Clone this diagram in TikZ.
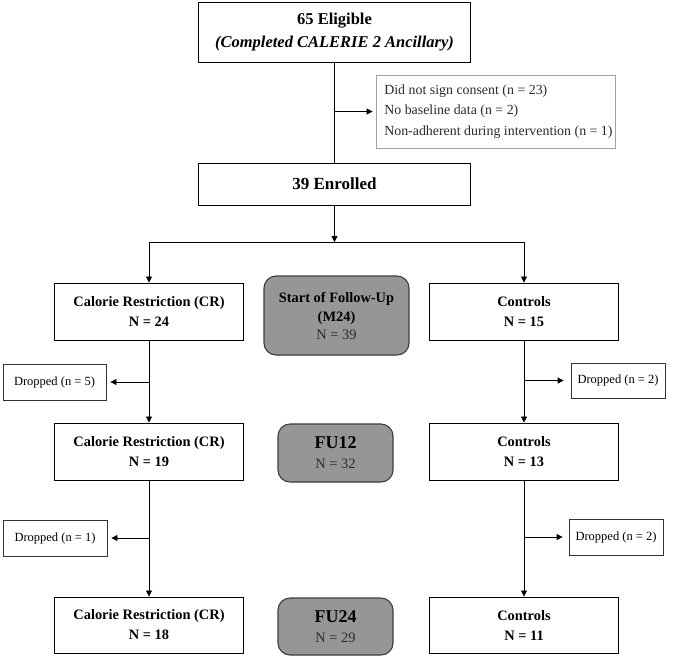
\documentclass[tikz,border=0pt]{standalone}
\usepackage{fontspec}
\setmainfont{Liberation Serif}
\usetikzlibrary{arrows.meta}
\definecolor{gfill}{HTML}{969696}
\definecolor{gline}{HTML}{3C3C3C}
\definecolor{exline}{HTML}{A0A0A0}
\definecolor{gtext}{HTML}{2A2A2A}
\begin{document}
\begin{tikzpicture}[x=1pt,y=-1pt,
  box/.style={draw=black, line width=0.9pt, fill=white, align=center, inner sep=0pt,
    minimum width=189pt, minimum height=57pt, font=\bfseries\fontsize{14.4}{20}\selectfont},
  gbox/.style={draw=gline, line width=1.1pt, fill=gfill, align=center, inner sep=0pt,
    rounded corners=12pt, font=\fontsize{14.4}{20}\selectfont},
  dropbox/.style={draw=black!80, line width=0.8pt, fill=white, inner sep=0pt,
    minimum width=103pt, minimum height=36pt, font=\fontsize{12.5}{15}\selectfont},
  arr/.style={-{Triangle[length=6pt,width=6pt]}, line width=0.8pt},
  ln/.style={line width=0.8pt}]
\useasboundingbox (0,0) rectangle (677,657);

% top
\node[box, minimum width=272pt, minimum height=60pt, font=\bfseries\fontsize{16.5}{23}\selectfont]
  (top) at (334.5,32) {65 Eligible\\\textit{(Completed CALERIE 2 Ancillary)}};
\node[draw=exline, line width=0.8pt, fill=white, inner sep=0pt,
  minimum width=239pt, minimum height=73pt] (excl) at (495.5,111.5) {};
\node[anchor=west, align=left, inner sep=0pt, text=gtext, font=\fontsize{13.9}{20.5}\selectfont]
  (excltxt) at ([xshift=8.5pt]excl.west)
  {Did not sign consent (n = 23)\\No baseline data (n = 2)\\Non-adherent during intervention (n = 1)};
\node[box, minimum width=272pt, minimum height=42pt, font=\bfseries\fontsize{17}{20}\selectfont]
  (enr) at (334.5,184) {39 Enrolled};

% row 1
\node[box] (cr1) at (149,311.5) {Calorie Restriction (CR)\\N = 24};
\node[box] (ct1) at (524,311.5) {Controls\\N = 15};
\node[gbox, minimum width=145pt, minimum height=79pt] (s1) at (336.5,315.5)
  {\textbf{Start of Follow-Up}\\[-1pt]\textbf{(M24)}\\[-2pt]{\color{gtext}N = 39}};

\node[dropbox] (dl1) at (54.5,382) {Dropped (n = 5)};
\node[dropbox, minimum width=94pt, minimum height=35pt] (dr1) at (618,380.5) {Dropped (n = 2)};

% row 2
\node[box] (cr2) at (149,451.5) {Calorie Restriction (CR)\\N = 19};
\node[box] (ct2) at (524,451.5) {Controls\\N = 13};
\node[gbox, minimum width=115pt, minimum height=58pt] (fu12) at (335.5,453)
  {{\bfseries\fontsize{18}{21}\selectfont FU12}\\{\color{gtext}N = 32}};

\node[dropbox, minimum width=104pt] (dl2) at (55,538) {Dropped (n = 1)};
\node[dropbox, minimum width=94pt] (dr2) at (616,537) {Dropped (n = 2)};

% row 3
\node[box, minimum height=56pt] (cr3) at (149,625) {Calorie Restriction (CR)\\N = 18};
\node[box, minimum height=56pt] (ct3) at (524,625) {Controls\\N = 11};
\node[gbox, minimum width=115pt, minimum height=57pt] (fu24) at (335.5,626.5)
  {{\bfseries\fontsize{18}{21}\selectfont FU24}\\{\color{gtext}N = 29}};

% connectors
\coordinate (split) at (334.5,242);
\draw[ln] (top) -- (enr);
\draw[arr, shorten >=3pt] (top.south |- excl.west) -- (excl.west);
\draw[arr] (enr) -- (split);
\draw[arr] (split) -| (cr1.north);
\draw[arr] (split) -| (ct1.north);

\draw[arr] (cr1) -- (cr2);
\draw[arr, shorten >=4pt] (cr1.south |- dl1.east) -- (dl1.east);
\draw[arr] (ct1) -- (ct2);
\draw[arr, shorten >=7pt] (ct1.south |- dr1.west) -- (dr1.west);

\draw[arr] (cr2) -- (cr3);
\draw[arr, shorten >=4pt] (cr2.south |- dl2.east) -- (dl2.east);
\draw[arr] (ct2) -- (ct3);
\draw[arr, shorten >=6pt] (ct2.south |- dr2.west) -- (dr2.west);
\end{tikzpicture}
\end{document}
